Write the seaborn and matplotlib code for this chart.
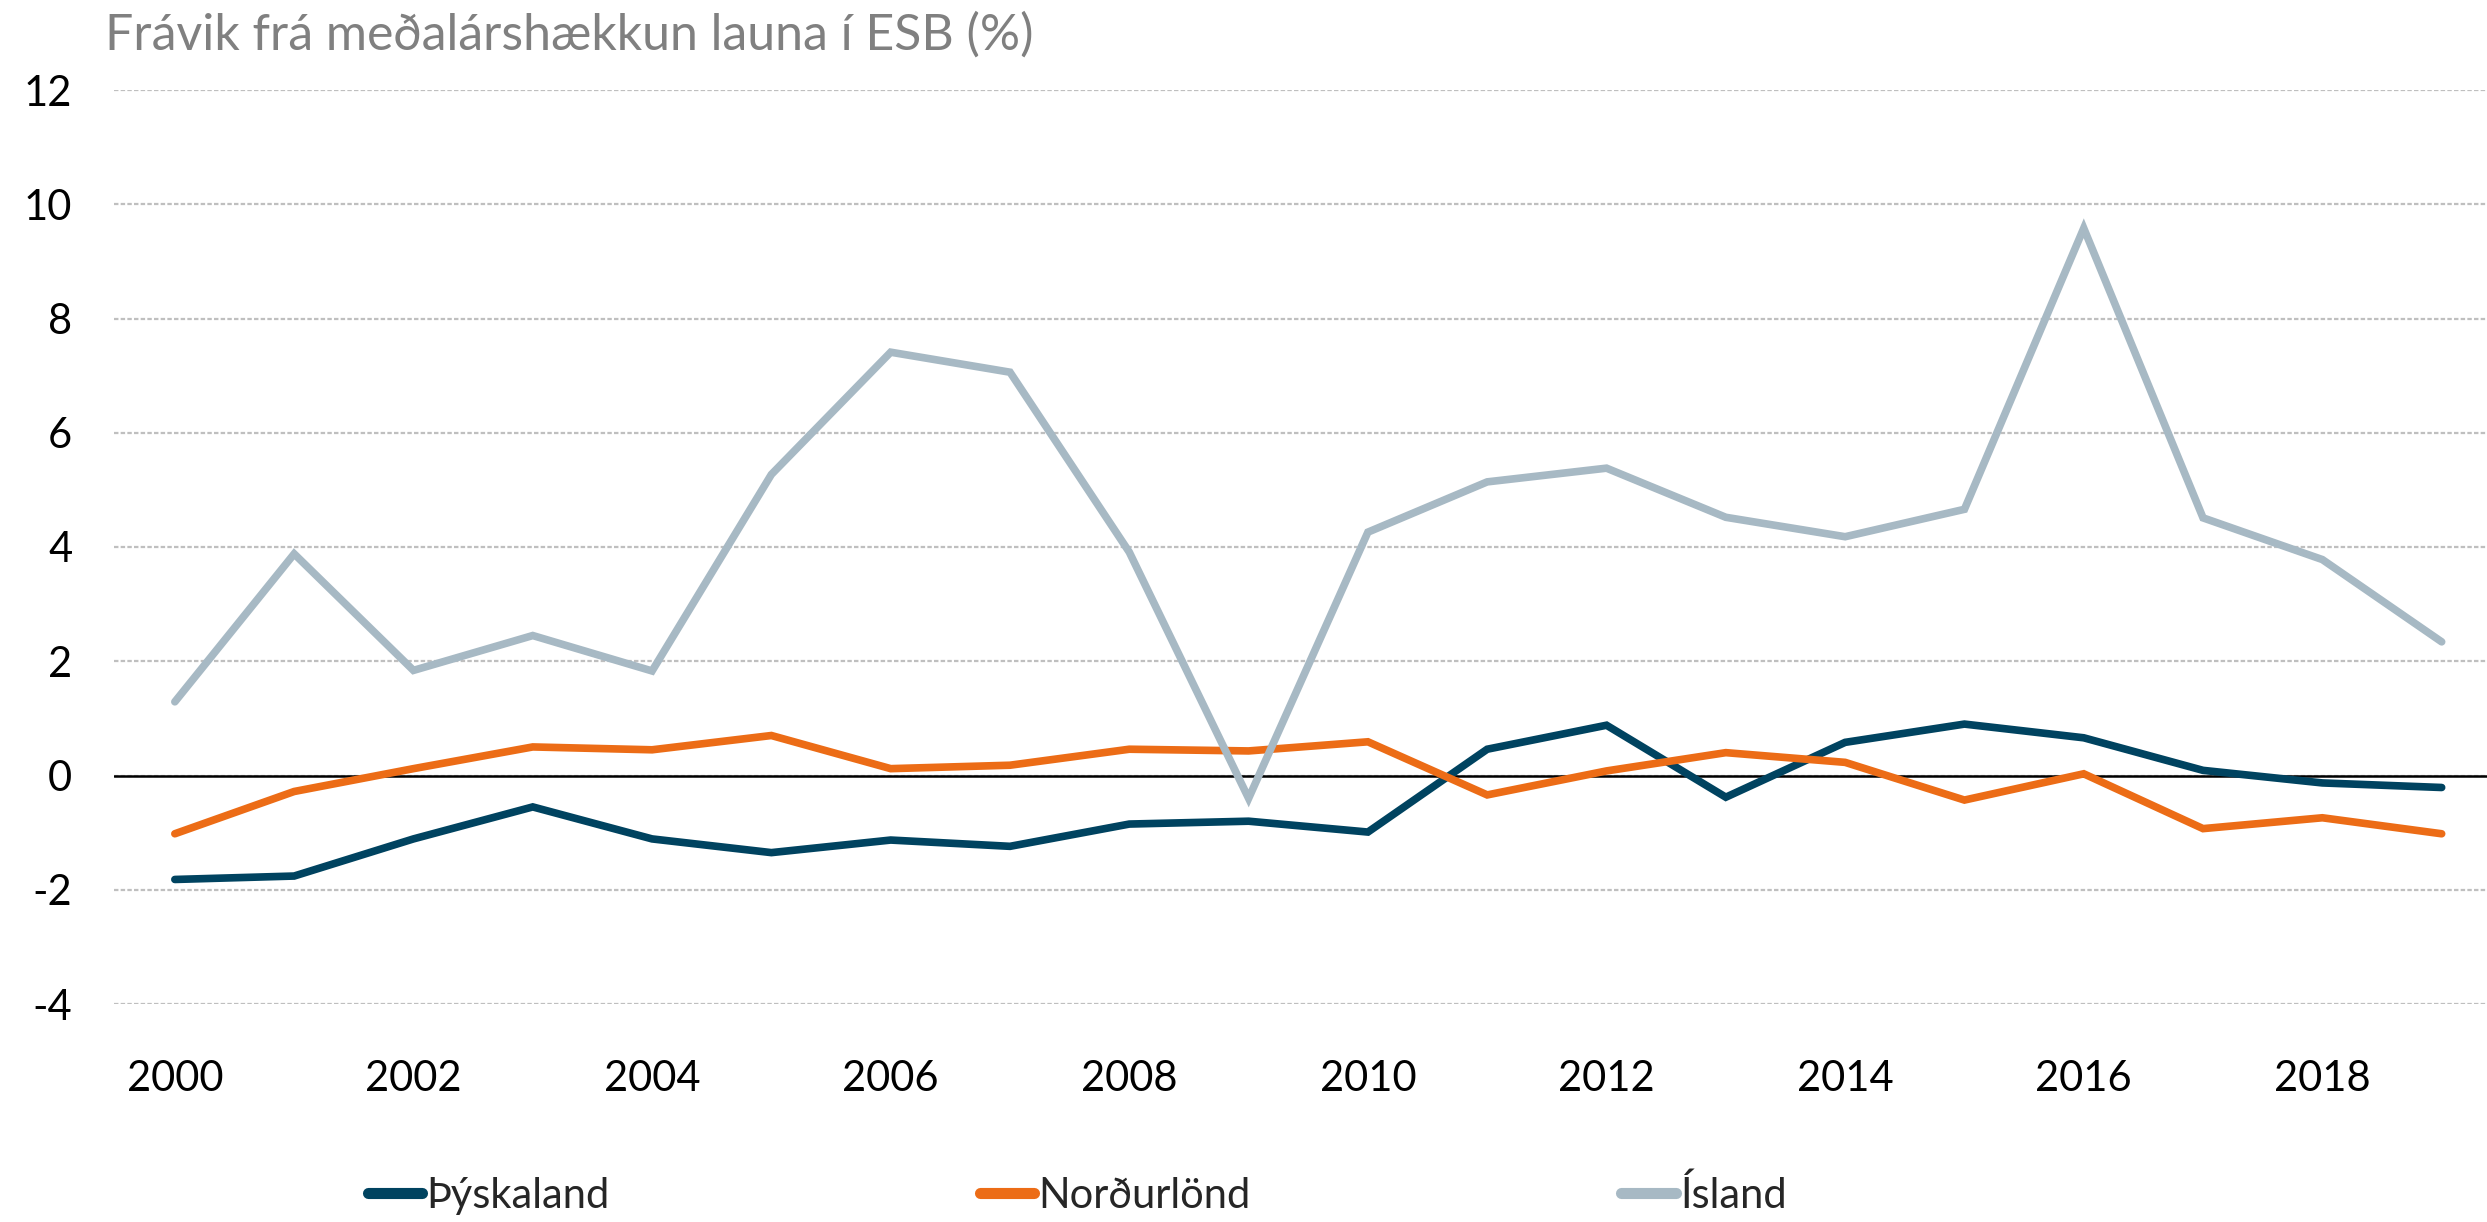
import numpy as np
import pandas as pd
import matplotlib
matplotlib.use("Agg")
import matplotlib.pyplot as plt
import seaborn as sns

# Data
years = list(range(2000, 2020))
thyskaland = [-1.82, -1.76, -1.11, -0.55, -1.11, -1.35, -1.13, -1.24, -0.85, -0.80,
              -0.99, 0.46, 0.88, -0.38, 0.58, 0.90, 0.66, 0.09, -0.13, -0.21]
nordurlond = [-1.02, -0.28, 0.12, 0.50, 0.45, 0.70, 0.12, 0.18, 0.46, 0.43,
              0.59, -0.34, 0.08, 0.40, 0.23, -0.43, 0.03, -0.93, -0.74, -1.02]
island = [1.29, 3.88, 1.84, 2.45, 1.83, 5.27, 7.41, 7.06, 3.91, -0.40,
          4.26, 5.14, 5.38, 4.52, 4.18, 4.66, 9.58, 4.51, 3.78, 2.34]
series_names = ["Þýskaland", "Norðurlönd", "Ísland"]
colors = ["#004360", "#EC6C16", "#A7B9C4"]
y_ticks = list(range(-4, 13, 2))
x_ticks = list(range(2000, 2019, 2))
title = "Frávik frá meðalárshækkun launa í ESB (%)"

df = pd.DataFrame({"Ár": years, "Þýskaland": thyskaland,
                   "Norðurlönd": nordurlond, "Ísland": island})
long_df = df.melt(id_vars="Ár", var_name="Land", value_name="Frávik")

sns.set_theme(style="white")
plt.rcParams["font.family"] = ["Lato", "DejaVu Sans"]
plt.rcParams["axes.unicode_minus"] = False

fig = plt.figure(figsize=(24.87, 12.22), dpi=100)
ax = fig.add_axes([114 / 2487, 1 - 1004 / 1222, 1 - 114 / 2487, (1004 - 90) / 1222])

sns.lineplot(data=long_df, x="Ár", y="Frávik", hue="Land", hue_order=series_names,
             palette=colors, linewidth=5.5, ax=ax, legend=False,
             solid_capstyle="round", solid_joinstyle="miter")

ax.set_xlim(1999.49, 2019.38)
ax.set_ylim(-4, 12)
ax.set_yticks(y_ticks)
ax.set_xticks(x_ticks)
ax.set_xticklabels([str(x) for x in x_ticks])
ax.grid(axis="y", color="#BFBFBF", linestyle=(0, (2, 1)), linewidth=1.6)
ax.grid(axis="x", visible=False)
ax.axhline(0, color="black", linewidth=1.8, zorder=1)
ax.set_axisbelow(True)
for s in ax.spines.values():
    s.set_visible(False)
ax.tick_params(axis="both", length=0, labelsize=30, colors="black")
ax.tick_params(axis="y", pad=30)
ax.tick_params(axis="x", pad=40)
ax.set_xlabel("")
ax.set_ylabel("")

fig.text(105 / 2487, 1 - 35 / 1222, title, fontsize=36, color="#808080",
         ha="left", va="center")

handles = [plt.Line2D([0], [0], color=c, linewidth=8, solid_capstyle="round")
           for c in colors]
fig.legend(handles, series_names, loc="center left",
           bbox_to_anchor=(330 / 2487, 1 - 1195 / 1222), ncol=3, frameon=False,
           fontsize=30, handlelength=1.3, handletextpad=0.1, columnspacing=8.9)

fig.savefig("out.png", dpi=100)
